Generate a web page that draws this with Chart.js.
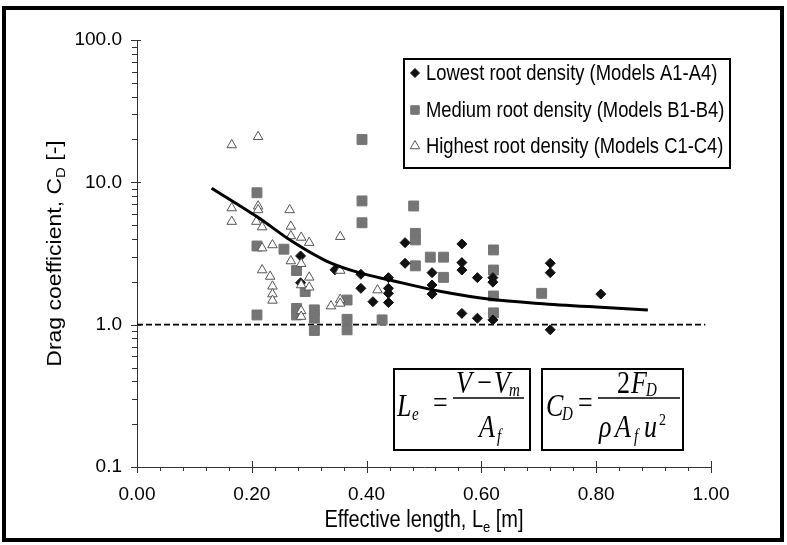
<!DOCTYPE html>
<html>
<head>
<meta charset="utf-8">
<script src="https://cdn.jsdelivr.net/npm/chart.js@4.4.1/dist/chart.umd.min.js"></script>
<style>
  html, body { margin: 0; padding: 0; background: #fff; }
  #graph { display: block; }
</style>
</head>
<body>
<canvas id="graph" width="787" height="545"></canvas>
<script>
// Models A1-A4 (lowest root density)
const lowX = [0.285, 0.285, 0.345, 0.390, 0.390, 0.411, 0.438, 0.438, 0.438, 0.438, 0.467, 0.467, 0.514, 0.514,
  0.514, 0.566, 0.566, 0.566, 0.566, 0.593, 0.593, 0.620, 0.620, 0.620, 0.720, 0.720, 0.720, 0.808];
const lowCd = [3.04, 1.97, 2.43, 2.26, 1.80, 1.45, 2.14, 1.80, 1.66, 1.43, 3.77, 2.70, 2.32, 1.90,
  1.64, 3.69, 2.73, 2.42, 1.20, 2.14, 1.11, 2.14, 1.99, 1.08, 2.70, 2.32, 0.92, 1.64];

// Models B1-B4 (medium root density)
const medX = [0.209, 0.209, 0.209, 0.256, 0.278, 0.278, 0.278, 0.293, 0.309, 0.309, 0.309, 0.366, 0.366, 0.366,
  0.392, 0.392, 0.392, 0.427, 0.482, 0.485, 0.485, 0.485, 0.511, 0.534, 0.534, 0.621, 0.621, 0.621, 0.621, 0.705];
const medCd = [8.45, 3.57, 1.17, 3.39, 2.40, 1.30, 1.17, 1.71, 1.27, 1.11, 0.91, 1.49, 1.09, 0.92,
  20.0, 7.4, 5.2, 1.08, 6.82, 4.38, 3.94, 2.59, 2.98, 2.98, 2.15, 3.35, 2.42, 1.59, 1.21, 1.66];

// Models C1-C4 (highest root density)
const highX = [0.165, 0.211, 0.165, 0.165, 0.211, 0.211, 0.208, 0.218, 0.218, 0.218, 0.236, 0.232, 0.236, 0.236,
  0.236, 0.266, 0.268, 0.268, 0.268, 0.286, 0.286, 0.286, 0.286, 0.286, 0.300, 0.300, 0.300, 0.338,
  0.354, 0.354, 0.354, 0.354, 0.419];
const highCd = [18.3, 20.9, 6.6, 5.3, 6.8, 6.4, 5.3, 4.85, 3.45, 2.42, 3.63, 2.18, 1.86, 1.64,
  1.48, 6.4, 4.9, 4.2, 2.8, 4.1, 2.68, 1.9, 1.25, 1.14, 3.77, 2.15, 1.83, 1.35,
  4.15, 2.40, 1.50, 1.41, 1.75];

// fitted trend line
const fitX = [0.13, 0.21, 0.27, 0.33, 0.39, 0.44, 0.53, 0.62, 0.70, 0.80, 0.89];
const fitCd = [9.1, 5.7, 3.85, 2.8, 2.3, 2.06, 1.71, 1.5, 1.41, 1.33, 1.27];

// Cd = 1 reference
const refX = [0, 0.99];
const refCd = [1, 1];

const yTicks = [0.1, 1, 10, 100];
const yTickLabels = ['0.1', '1.0', '10.0', '100.0'];

const legendLabels = [
  'Lowest root density (Models A1-A4)',
  'Medium root density (Models B1-B4)',
  'Highest root density (Models C1-C4)'
];

const SANS = '"Liberation Sans", Arial, sans-serif';
const SERIF = '"Liberation Serif", "Times New Roman", serif';
const TALL = 1.15; // text in this figure is drawn slightly taller than wide

const toPoints = (xs, ys) => xs.map((x, i) => ({ x: x, y: ys[i] }));

const lowStyle = { pointStyle: 'rectRot', backgroundColor: '#111', borderColor: '#111', borderWidth: 1 };
const medStyle = { pointStyle: 'rect', backgroundColor: '#757575', borderColor: '#757575', borderWidth: 1 };
const highStyle = { pointStyle: 'triangle', backgroundColor: '#fff', borderColor: '#555', borderWidth: 1 };

// draws a string made of [text, size, dy] pieces left to right
function drawRuns(ctx, runs, x, y, family) {
  let cx = x;
  runs.forEach(r => {
    ctx.font = r[1] + 'px ' + family;
    ctx.fillText(r[0], cx, y + r[2]);
    cx += ctx.measureText(r[0]).width;
  });
}
function runsWidth(ctx, runs, family) {
  let w = 0;
  runs.forEach(r => {
    ctx.font = r[1] + 'px ' + family;
    w += ctx.measureText(r[0]).width;
  });
  return w;
}

// equation glyphs, stretched vertically
function eqText(ctx, str, x, y, size, italic) {
  ctx.save();
  ctx.translate(x, y);
  ctx.scale(1, 1.25);
  ctx.font = (italic ? 'italic ' : '') + size + 'px ' + SERIF;
  ctx.fillText(str, 0, 0);
  ctx.restore();
}

const decorations = {
  id: 'decorations',
  afterDraw(chart) {
    const ctx = chart.ctx;
    const xs = chart.scales.x, ys = chart.scales.y;
    const area = chart.chartArea;
    ctx.save();
    ctx.strokeStyle = '#333';
    ctx.lineWidth = 1;

    // x ticks: major every 0.2 crossing the axis, minor every 0.04 below it
    ctx.beginPath();
    for (let i = 0; i <= 25; i++) {
      const px = Math.round(xs.getPixelForValue(i * 0.04)) + 0.5;
      const major = i % 5 === 0;
      ctx.moveTo(px, area.bottom + (major ? -6 : 0));
      ctx.lineTo(px, area.bottom + (major ? 6 : 4));
    }
    // y ticks: decades crossing the axis, 2..9 to the left
    for (let d = -1; d <= 2; d++) {
      for (let k = 1; k <= 9; k++) {
        if (d === 2 && k > 1) break;
        const py = Math.round(ys.getPixelForValue(k * Math.pow(10, d))) + 0.5;
        const major = k === 1;
        ctx.moveTo(area.left + (major ? -6 : -5), py);
        ctx.lineTo(area.left + (major ? 4 : 0), py);
      }
    }
    ctx.stroke();

    ctx.fillStyle = '#000';
    ctx.textBaseline = 'alphabetic';

    // x axis title
    const xRuns = [['Effective length, L', 20, 0], ['e', 13, 4], [' [m]', 20, 0]];
    const xw = runsWidth(ctx, xRuns, SANS);
    ctx.save();
    ctx.translate((area.left + area.right) / 2 - xw / 2, 527);
    ctx.scale(1, TALL);
    drawRuns(ctx, xRuns, 0, 0, SANS);
    ctx.restore();

    // y axis title
    const yRuns = [['Drag coefficient, C', 20, 0], ['D', 13, 4], [' [-]', 20, 0]];
    const yw = runsWidth(ctx, yRuns, SANS);
    ctx.save();
    ctx.translate(61, (area.top + area.bottom) / 2);
    ctx.scale(1, TALL);
    ctx.rotate(-Math.PI / 2);
    drawRuns(ctx, yRuns, -yw / 2, 0, SANS);
    ctx.restore();

    // legend
    ctx.strokeStyle = '#000';
    ctx.lineWidth = 2;
    ctx.strokeRect(404, 59, 326, 109);
    const styles = [lowStyle, medStyle, highStyle];
    const radii = [4.5, 6, 5.5];
    const rows = [80, 117, 153];
    styles.forEach((s, i) => {
      ctx.fillStyle = s.backgroundColor;
      ctx.strokeStyle = s.borderColor;
      ctx.lineWidth = 1;
      Chart.helpers.drawPoint(ctx, { pointStyle: s.pointStyle, radius: radii[i], rotation: 0, borderWidth: 1 }, 415, rows[i] - 7);
      ctx.fillStyle = '#000';
      ctx.save();
      ctx.translate(426, rows[i]);
      ctx.scale(1, TALL);
      ctx.font = '18.4px ' + SANS;
      ctx.fillText(legendLabels[i], 0, 0);
      ctx.restore();
    });

    // equation boxes
    ctx.strokeStyle = '#000';
    ctx.lineWidth = 2;
    ctx.strokeRect(394, 369, 136, 81);
    ctx.strokeRect(542, 369, 141, 81);
    ctx.fillStyle = '#000';
    ctx.lineWidth = 1.5;
    ctx.beginPath();
    ctx.moveTo(453, 398); ctx.lineTo(524, 398);
    ctx.moveTo(598, 398); ctx.lineTo(680, 398);
    ctx.stroke();

    // L_e = (V - V_m) / A_f
    eqText(ctx, 'L', 397, 416, 26, true);
    eqText(ctx, 'e', 412, 420, 15, true);
    eqText(ctx, '=', 433, 413, 26, false);
    eqText(ctx, 'V', 456, 393, 26, true);
    eqText(ctx, '\u2212', 477, 393, 26, false);
    eqText(ctx, 'V', 494, 393, 26, true);
    eqText(ctx, 'm', 509, 396, 15, true);
    eqText(ctx, 'A', 479, 437, 26, true);
    eqText(ctx, 'f', 497, 442, 15, true);

    // C_D = 2 F_D / (rho A_f u^2)
    eqText(ctx, 'C', 546, 416, 26, true);
    eqText(ctx, 'D', 562, 420, 15, true);
    eqText(ctx, '=', 578, 413, 26, false);
    eqText(ctx, '2', 617, 393, 26, false);
    eqText(ctx, 'F', 631, 393, 26, true);
    eqText(ctx, 'D', 646, 396, 15, true);
    eqText(ctx, '\u03c1', 599, 437, 26, true);
    eqText(ctx, 'A', 615, 437, 26, true);
    eqText(ctx, 'f', 634, 442, 15, true);
    eqText(ctx, 'u', 644, 437, 26, true);
    eqText(ctx, '2', 659, 425, 14, false);

    // outer frame
    ctx.strokeStyle = '#000';
    ctx.lineWidth = 4;
    ctx.strokeRect(4, 8, 778, 532);
    ctx.restore();
  }
};

new Chart(document.getElementById('graph').getContext('2d'), {
  type: 'scatter',
  data: {
    datasets: [
      {
        label: 'fit',
        data: toPoints(fitX, fitCd),
        showLine: true,
        borderColor: '#000',
        borderWidth: 3,
        pointRadius: 0,
        cubicInterpolationMode: 'monotone',
        order: 0
      },
      Object.assign({ label: legendLabels[2], data: toPoints(highX, highCd), pointRadius: 5.5, order: 1 }, highStyle),
      Object.assign({ label: legendLabels[0], data: toPoints(lowX, lowCd), pointRadius: 5, order: 2 }, lowStyle),
      Object.assign({ label: legendLabels[1], data: toPoints(medX, medCd), pointRadius: 7, order: 3 }, medStyle),
      {
        label: 'Cd = 1',
        data: toPoints(refX, refCd),
        showLine: true,
        borderColor: '#000',
        borderWidth: 1.8,
        borderDash: [6, 3],
        pointRadius: 0,
        order: 4
      }
    ]
  },
  options: {
    responsive: false,
    animation: false,
    devicePixelRatio: 1,
    layout: { padding: { left: 0, right: 76, top: 40, bottom: 0 } },
    plugins: {
      legend: { display: false },
      tooltip: { enabled: false }
    },
    scales: {
      x: {
        type: 'linear',
        min: 0,
        max: 1,
        grid: { display: false, drawTicks: false },
        border: { display: true, color: '#333', width: 1 },
        ticks: {
          stepSize: 0.2,
          padding: 16,
          color: '#000',
          font: { family: SANS, size: 19 },
          callback: v => v.toFixed(2)
        },
        afterFit: s => { s.height = 78; }
      },
      y: {
        type: 'logarithmic',
        min: 0.1,
        max: 100,
        grid: { display: false, drawTicks: false },
        border: { display: true, color: '#333', width: 1 },
        ticks: {
          padding: 15,
          color: '#000',
          font: { family: SANS, size: 19 },
          callback: v => {
            const i = yTicks.indexOf(v);
            return i >= 0 ? yTickLabels[i] : '';
          }
        },
        afterBuildTicks: s => { s.ticks = yTicks.map(v => ({ value: v })); },
        afterFit: s => { s.width = 137; }
      }
    }
  },
  plugins: [decorations]
});
</script>
</body>
</html>
